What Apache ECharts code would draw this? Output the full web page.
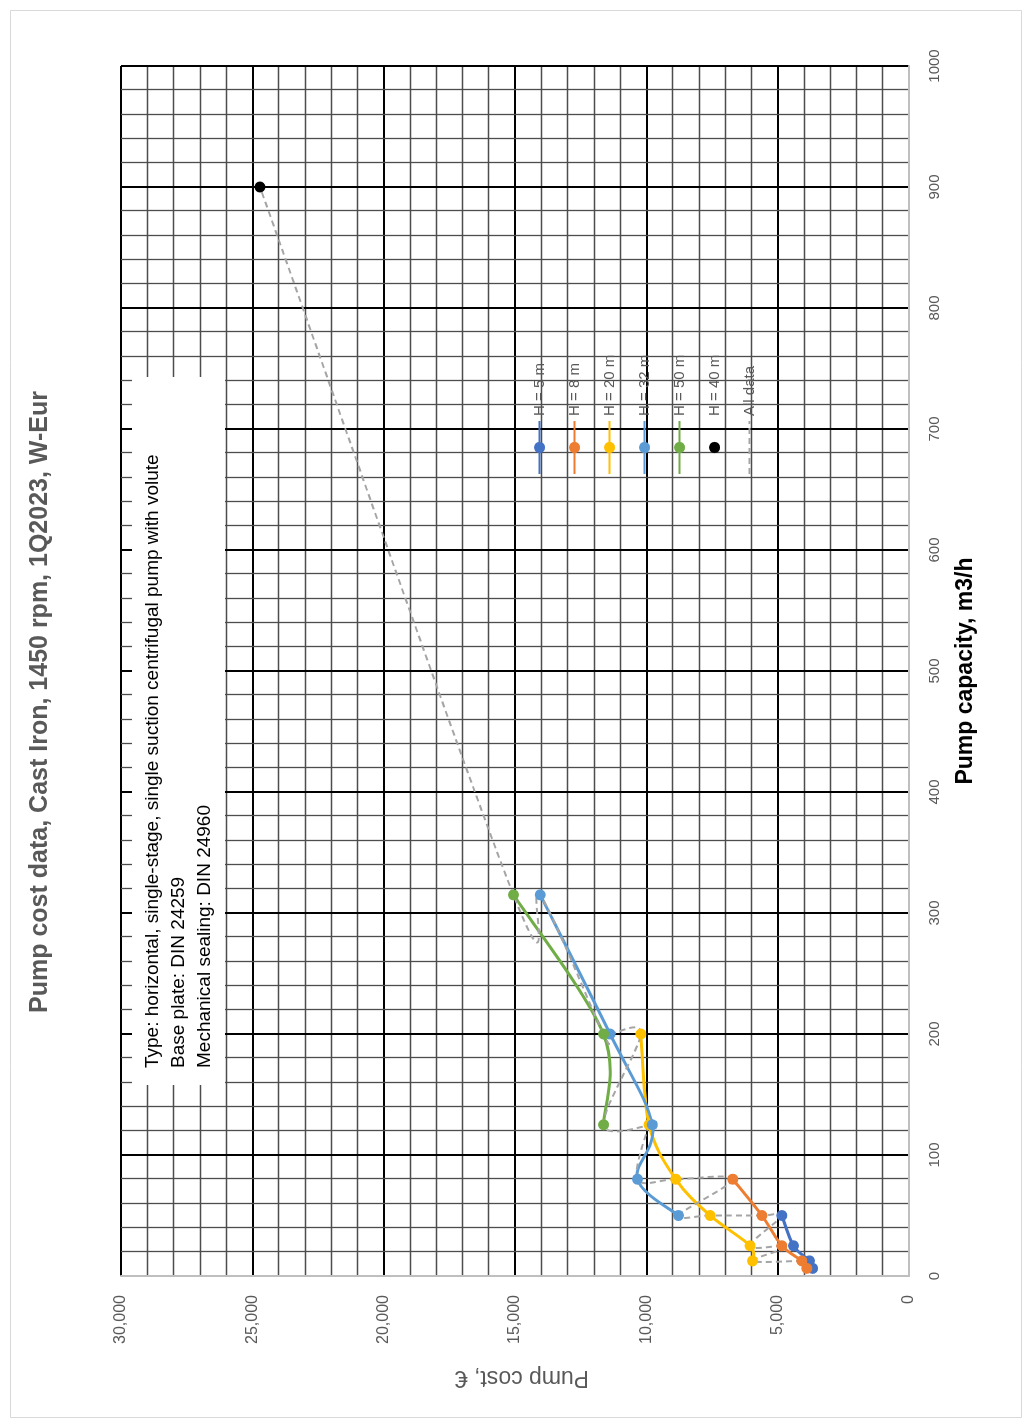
<!DOCTYPE html>
<html><head><meta charset="utf-8">
<script src="https://cdn.jsdelivr.net/npm/echarts@6/dist/echarts.min.js"></script>
<style>
html,body{margin:0;padding:0;background:#fff;width:1032px;height:1428px;overflow:hidden;}
#chart{position:absolute;left:0;top:0;width:1428px;height:1032px;transform-origin:0 0;transform:translateY(1428px) rotate(-90deg);}
</style></head><body><div id="chart"></div>
<script>
// ---- text ----
const titleText = 'Pump cost data, Cast Iron, 1450 rpm, 1Q2023, W-Eur';
const xAxisName = 'Pump capacity, m3/h';
const yAxisName = 'Pump cost, \u20ac';
const noteLines = [
  'Type: horizontal, single-stage, single suction centrifugal pump with volute',
  'Base plate: DIN 24259',
  'Mechanical sealing: DIN 24960'
];
// ---- axes ----
const capacityTicks = [0, 100, 200, 300, 400, 500, 600, 700, 800, 900, 1000];
const costTicks = [0, 5000, 10000, 15000, 20000, 25000, 30000];
// ---- series (capacity m3/h, cost EUR) ----
const seriesNames = ['H = 5 m', 'H = 8 m', 'H = 20 m', 'H = 32 m', 'H = 50 m', 'H = 40 m'];
const allDataName = 'All data';
const h5Capacity = [6.3, 12.5, 25, 50];
const h5Cost = [3670, 3790, 4400, 4840];
const h8Capacity = [6.3, 12.5, 25, 50, 80];
const h8Cost = [3890, 4080, 4840, 5600, 6710];
const h20Capacity = [12.5, 25, 50, 80, 125, 200];
const h20Cost = [5960, 6050, 7570, 8880, 9900, 10210];
const h32Capacity = [50, 80, 125, 200, 315];
const h32Cost = [8780, 10340, 9770, 11380, 14040];
const h50Capacity = [125, 200, 315];
const h50Cost = [11630, 11630, 15060];
const h40Capacity = [900];
const h40Cost = [24710];

const seriesColors = ['#4472C4', '#ED7D31', '#FFC000', '#5B9BD5', '#70AD47', '#000000'];
const FONT = 'Liberation Sans, Arial, sans-serif';

function pts(cap, cost) { return cap.map((c, i) => [c, cost[i]]); }
const seriesData = [
  pts(h5Capacity, h5Cost), pts(h8Capacity, h8Cost), pts(h20Capacity, h20Cost),
  pts(h32Capacity, h32Cost), pts(h50Capacity, h50Cost), pts(h40Capacity, h40Cost)
];
// "All data": every point, ordered by capacity (ties keep series order)
const allData = [];
seriesData.forEach((d, si) => d.forEach((p, pi) => allData.push({p, si, pi})));
allData.sort((a, b) => a.p[0] - b.p[0] || a.si - b.si || a.pi - b.pi);
const allPoints = allData.map(o => o.p);

// smoothed (Excel-like cardinal bezier) curve through points, via the axes' scales
function curveSeries(points, style, z) {
  return {
    type: 'custom', name: '__curve', data: points, encode: {x: 0, y: 1},
    z: z, silent: true, clip: false,
    renderItem: function (params, api) {
      const i = params.dataIndex;
      if (i >= points.length - 1) return null;
      const n = points.length;
      const P = k => api.coord(points[Math.max(0, Math.min(n - 1, k))]);
      const p0 = P(i - 1), p1 = P(i), p2 = P(i + 1), p3 = P(i + 2);
      const t = 1 / 6;
      return {
        type: 'bezierCurve',
        shape: {
          x1: p1[0], y1: p1[1], x2: p2[0], y2: p2[1],
          cpx1: p1[0] + (p2[0] - p0[0]) * t, cpy1: p1[1] + (p2[1] - p0[1]) * t,
          cpx2: p2[0] - (p3[0] - p1[0]) * t, cpy2: p2[1] - (p3[1] - p1[1]) * t
        },
        style: Object.assign({fill: null}, style)
      };
    }
  };
}

const series = [];
seriesData.forEach((d, i) => {
  if (i !== 5) series.push(curveSeries(d, {stroke: seriesColors[i], lineWidth: 3, lineCap: 'round', lineJoin: 'round'}, 2));
});
series.push(curveSeries(allPoints, {stroke: '#A5A5A5', lineWidth: 2, lineDash: [6, 4]}, 3));
seriesData.forEach((d, i) => {
  series.push({
    name: seriesNames[i], type: 'line', data: d, z: 4,
    symbol: 'circle', symbolSize: 11, showSymbol: true,
    lineStyle: {width: i === 5 ? 0 : 3, color: seriesColors[i], opacity: 0},
    itemStyle: {color: seriesColors[i]},
    emphasis: {disabled: true}
  });
});
series.push({
  name: allDataName, type: 'line', data: allPoints, z: 3,
  symbol: 'circle', showSymbol: false,
  lineStyle: {width: 2, color: '#A5A5A5', type: [6, 4], opacity: 0},
  itemStyle: {color: '#A5A5A5', opacity: 0},
  emphasis: {disabled: true}
});

const legendData = seriesNames.map((nm, i) => (i === 5 ? {name: nm} : {name: nm, lineStyle: {opacity: 1}}));
legendData.push({name: allDataName, lineStyle: {opacity: 1}});

const chart = echarts.init(document.getElementById('chart'), null, {renderer: 'canvas'});
const option = {
  animation: false,
  backgroundColor: '#ffffff',
  textStyle: {fontFamily: FONT},
  grid: {left: 152, right: 66, top: 121, bottom: 123, containLabel: false},
  xAxis: {
    type: 'value', min: capacityTicks[0], max: capacityTicks[capacityTicks.length - 1],
    interval: capacityTicks[1] - capacityTicks[0], position: 'bottom',
    name: xAxisName, nameLocation: 'middle', nameGap: 45,
    nameTextStyle: {fontSize: 23, fontWeight: 'bold', color: '#000', fontFamily: FONT},
    axisLine: {show: true, onZero: false, lineStyle: {color: '#BFBFBF', width: 2}},
    axisTick: {show: false},
    axisLabel: {margin: 18, fontSize: 15, color: '#595959', fontFamily: FONT, formatter: v => String(v)},
    splitLine: {show: true, showMinLine: false, lineStyle: {color: '#000', width: 2}},
    minorTick: {show: false, splitNumber: 5},
    minorSplitLine: {show: true, lineStyle: {color: '#4d4d4d', width: 1.3}}
  },
  yAxis: {
    type: 'value', min: costTicks[0], max: costTicks[costTicks.length - 1],
    interval: costTicks[1] - costTicks[0],
    name: yAxisName, nameLocation: 'middle', nameGap: 90,
    nameTextStyle: {fontSize: 23, color: '#595959', fontFamily: FONT, padding: [0, 14, 0, 0]},
    axisLine: {show: true, onZero: false, lineStyle: {color: '#BFBFBF', width: 2}},
    axisTick: {show: false},
    axisLabel: {margin: 19, fontSize: 16, color: '#595959', fontFamily: FONT},
    splitLine: {show: true, showMinLine: false, lineStyle: {color: '#000', width: 2}},
    minorTick: {show: false, splitNumber: 5},
    minorSplitLine: {show: true, lineStyle: {color: '#4d4d4d', width: 1.3}}
  },
  legend: {
    orient: 'vertical', left: 948, top: 527, itemWidth: 53, itemHeight: 14, itemGap: 20,
    textStyle: {fontSize: 15, color: '#595959', fontFamily: FONT},
    data: legendData, selectedMode: false
  },
  graphic: [
    {type: 'rect', silent: true, z: -1, shape: {x: 10.5, y: 10.5, width: 1407, height: 1011},
     style: {fill: 'none', stroke: '#D9D9D9', lineWidth: 1}},
    {type: 'rect', silent: true, z: 1, shape: {x: 343, y: 132, width: 708, height: 93},
     style: {fill: '#ffffff'}},
    {type: 'text', silent: true, z: 1, z2: 10, x: 360, y: 153,
     style: {text: noteLines[0], fontSize: 19, fontFamily: FONT, fill: '#000', verticalAlign: 'middle'}},
    {type: 'text', silent: true, z: 1, z2: 10, x: 360, y: 179,
     style: {text: noteLines[1], fontSize: 19, fontFamily: FONT, fill: '#000', verticalAlign: 'middle'}},
    {type: 'text', silent: true, z: 1, z2: 10, x: 360, y: 205,
     style: {text: noteLines[2], fontSize: 19, fontFamily: FONT, fill: '#000', verticalAlign: 'middle'}},
    {type: 'text', silent: true, z: 1, x: 726, y: 40,
     style: {text: titleText, fontSize: 25, fontWeight: 'bold', fontFamily: FONT, fill: '#595959',
             align: 'center', verticalAlign: 'middle'}}
  ],
  series: series
};
chart.setOption(option);
</script>
</body></html>
